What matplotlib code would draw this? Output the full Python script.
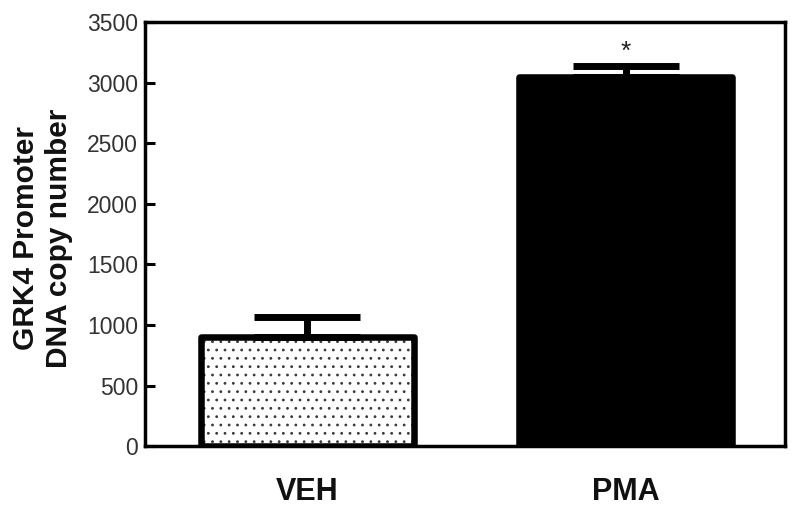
import matplotlib
matplotlib.use("Agg")
import matplotlib.pyplot as plt

categories = ["VEH", "PMA"]
means = [900, 3050]
errors = [165, 85]
y_ticks = [0, 500, 1000, 1500, 2000, 2500, 3000, 3500]
ylabel_text = "GRK4 Promoter\nDNA copy number"
sig_marks = ["", "*"]

plt.rcParams['font.family'] = ['Liberation Sans', 'DejaVu Sans']
plt.rcParams['hatch.linewidth'] = 0.8

fig = plt.figure(figsize=(8.0, 5.07), dpi=100)
ax = fig.add_axes([0.181, 0.120, 0.800, 0.8366])

x = list(range(len(categories)))
width = 0.67
edge_lw = 4.7

# VEH: dotted fill
ax.bar(x[0], means[0], width=width, color="white", hatch="..",
       edgecolor="#3a3a3a", linewidth=0, zorder=2)
ax.bar(x[0], means[0], width=width, fill=False, edgecolor="black",
       linewidth=edge_lw, joinstyle="round", zorder=3)
# PMA: solid black
ax.bar(x[1], means[1], width=width, color="black", edgecolor="black",
       linewidth=edge_lw, joinstyle="round", zorder=3)

for xi, m, e in zip(x, means, errors):
    ax.errorbar(xi, m, yerr=[[0], [e]], fmt="none", ecolor="black",
                elinewidth=5, capsize=38.5, capthick=5, zorder=2)

for xi, m, e, s in zip(x, means, errors, sig_marks):
    if s:
        ax.annotate(s, (xi, m + e), xytext=(0, 10), textcoords="offset points",
                    ha="center", va="center", fontsize=19, color="#222222")

ax.set_xlim(-0.51, 1.5)
ax.set_ylim(0, 3500)
ax.set_yticks(y_ticks)
ax.set_yticklabels([str(t) for t in y_ticks], fontsize=16.5, color="#333333")
ax.set_xticks(x)
ax.set_xticklabels(categories, fontsize=22, fontweight="bold", color="#111111")

ax.tick_params(axis="y", direction="in", length=7, width=2.2, pad=5)
ax.tick_params(axis="x", length=0, pad=22)

for sp in ax.spines.values():
    sp.set_linewidth(2.5)
    sp.set_color("black")

fig.text(0.053, 1 - 238 / 507, ylabel_text, rotation=90, ha="center", va="center",
         multialignment="center", fontsize=21.5, fontweight="bold", color="#111111",
         linespacing=1.2)

fig.savefig("out.png", dpi=100)
